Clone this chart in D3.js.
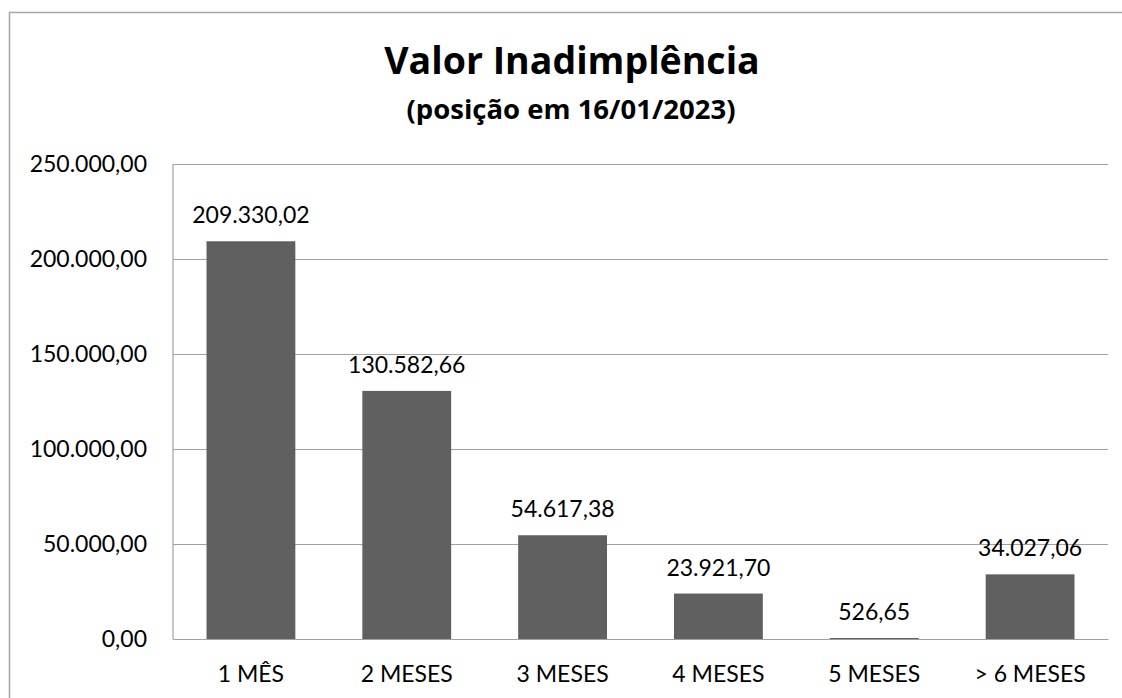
<!DOCTYPE html>
<html>
<head>
<meta charset="utf-8">
<script src="https://cdn.jsdelivr.net/npm/d3@7"></script>
<style>
  html, body { margin: 0; padding: 0; background: #fff; overflow: hidden; }
  svg { display: block; font-family: Lato, "Open Sans", sans-serif; }
</style>
</head>
<body>
<svg id="chart" width="1122" height="698"></svg>
<script>
// Overdue amounts by age bracket
const categories = ["1 MÊS", "2 MESES", "3 MESES", "4 MESES", "5 MESES", "> 6 MESES"];
const values = [209330.02, 130582.66, 54617.38, 23921.70, 526.65, 34027.06];
const yTicks = [0, 50000, 100000, 150000, 200000, 250000];
const titleText = "Valor Inadimplência";
const subtitleText = "(posição em 16/01/2023)";

const ptBR = d3.formatLocale({ decimal: ",", thousands: ".", grouping: [3], currency: ["R$", ""] });
const fmt = ptBR.format(",.2f");

const svg = d3.select("#chart");
const plot = { left: 173, right: 1108, top: 164, bottom: 639 };

// Outer chart frame (runs past the right and bottom edges)
svg.append("rect")
  .attr("x", 9.5).attr("y", 12.5)
  .attr("width", 1300).attr("height", 900)
  .attr("fill", "#fff")
  .attr("stroke", "#a6a6a6").attr("stroke-width", 1.5);

// Titles
svg.append("text")
  .attr("x", 572).attr("y", 74)
  .attr("text-anchor", "middle")
  .attr("font-family", "'Open Sans', sans-serif")
  .attr("font-size", 37.5).attr("font-weight", 700)
  .attr("fill", "#000")
  .text(titleText);

svg.append("text")
  .attr("x", 571).attr("y", 119)
  .attr("text-anchor", "middle")
  .attr("font-family", "'Open Sans', sans-serif")
  .attr("font-size", 27.5).attr("font-weight", 700)
  .attr("fill", "#000")
  .text(subtitleText);

const x = d3.scaleBand()
  .domain(categories)
  .range([plot.left, plot.right])
  .paddingInner(0.43)
  .paddingOuter(0.215);

const y = d3.scaleLinear()
  .domain([0, 250000])
  .range([plot.bottom, plot.top]);

// Y axis with gridlines
const yAxis = svg.append("g")
  .attr("transform", `translate(${plot.left},0)`)
  .call(d3.axisLeft(y)
    .tickValues(yTicks)
    .tickFormat(fmt)
    .tickSize(-(plot.right - plot.left))
    .tickPadding(26));
yAxis.select(".domain").remove();
yAxis.selectAll(".tick line")
  .attr("stroke", "#a0a0a0").attr("stroke-width", 1.2);
yAxis.selectAll(".tick text")
  .attr("font-size", 23).attr("fill", "#000")
  .attr("font-family", "Lato, sans-serif");

// Left axis line
svg.append("line")
  .attr("x1", plot.left).attr("x2", plot.left)
  .attr("y1", plot.top).attr("y2", plot.bottom)
  .attr("stroke", "#a0a0a0").attr("stroke-width", 1.2);

// Bars
svg.append("g").selectAll("rect")
  .data(values)
  .join("rect")
  .attr("x", (d, i) => x(categories[i]))
  .attr("y", d => y(d))
  .attr("width", x.bandwidth())
  .attr("height", d => y(0) - y(d))
  .attr("fill", "#606060");

// Bottom axis line and category labels
const xAxis = svg.append("g")
  .attr("transform", `translate(0,${plot.bottom})`)
  .call(d3.axisBottom(x).tickSize(0).tickPadding(27));
xAxis.select(".domain")
  .attr("stroke", "#a0a0a0").attr("stroke-width", 1.2);
xAxis.selectAll(".tick text")
  .attr("font-size", 23).attr("fill", "#000")
  .attr("font-family", "Lato, sans-serif");

// Value labels above bars
svg.append("g").selectAll("text")
  .data(values)
  .join("text")
  .attr("x", (d, i) => x(categories[i]) + x.bandwidth() / 2)
  .attr("y", d => y(d) - 18)
  .attr("text-anchor", "middle")
  .attr("font-size", 23)
  .attr("fill", "#000")
  .text(d => fmt(d));
</script>
</body>
</html>
